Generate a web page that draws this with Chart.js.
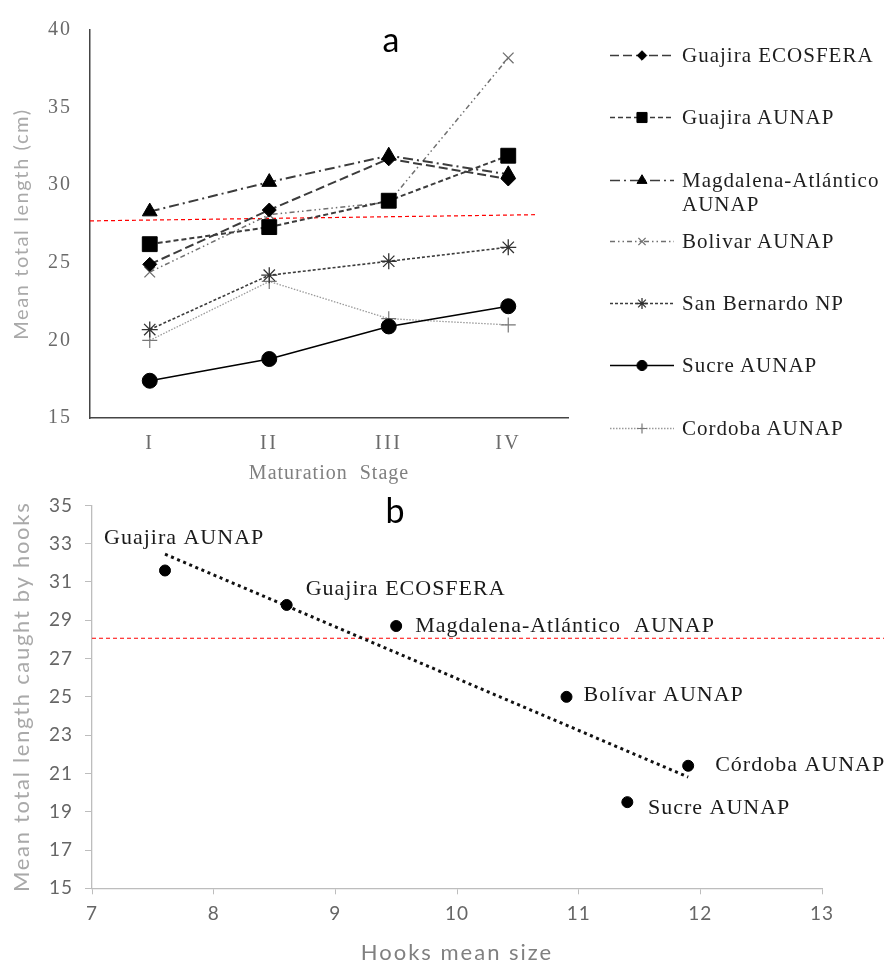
<!DOCTYPE html>
<html>
<head>
<meta charset="utf-8">
<script src="https://cdn.jsdelivr.net/npm/chart.js@4.4.1/dist/chart.umd.min.js"></script>
<style>
  html, body { margin: 0; padding: 0; background: #fff; }
  #page { position: relative; width: 884px; height: 963px; overflow: hidden; background: #fff; }
  canvas.chart { position: absolute; left: 0; }
  #cvA { top: 0; }
  #cvB { top: 482px; }
  .panel { position: absolute; font-family: Lato, sans-serif; font-size: 34px; line-height: 34px; color: #000; transform: translateX(-50%); }
  .item { position: absolute; left: 608px; height: 24px; width: 276px; }
  .item canvas { position: absolute; left: 0; top: 0; }
  .item span { position: absolute; left: 74px; top: 0; width: 204px; font-family: 'Liberation Serif', 'Times New Roman', serif; font-size: 21px; line-height: 24px; letter-spacing: 1px; color: #1e1e1e; }
</style>
</head>
<body>
<div id="page">
  <canvas id="cvA" class="chart" width="884" height="486"></canvas>
  <canvas id="cvB" class="chart" width="884" height="481"></canvas>
  <div class="panel" style="left:391px; top:22px;">a</div>
  <div class="panel" style="left:395px; top:493px;">b</div>
  <div id="legend"></div>
</div>
<script>
// ---- Panel a: mean total length by maturation stage ----
const stages = ['I', 'II', 'III', 'IV'];
const siteNames = ['Guajira ECOSFERA', 'Guajira AUNAP', 'Magdalena-Atlántico AUNAP', 'Bolivar AUNAP',
                   'San Bernardo NP', 'Sucre AUNAP', 'Cordoba AUNAP'];
const guajiraEcosfera    = [24.9, 28.4, 31.7, 30.4];
const guajiraAunap       = [26.2, 27.3, 29.0, 31.9];
const magdalenaAtlantico = [28.3, 30.2, 31.9, 30.7];
const bolivar            = [24.4, 28.1, 28.9, 38.2];
const sanBernardo        = [20.7, 24.2, 25.1, 26.0];
const sucre              = [17.4, 18.8, 20.9, 22.2];
const cordoba            = [20.0, 23.8, 21.4, 21.0];
const yTicksA = [15, 20, 25, 30, 35, 40];
// reference length line (x in stage units, -0.5 = left edge of the plot)
const referenceA = [{ x: -0.5, y: 27.7 }, { x: 3.24, y: 28.1 }];

// ---- Panel b: mean total length against hook size ----
const hookSites  = ['Guajira AUNAP', 'Guajira ECOSFERA', 'Magdalena-Atlántico  AUNAP', 'Bolívar AUNAP', 'Córdoba AUNAP', 'Sucre AUNAP'];
const hookSize   = [7.6, 8.6, 9.5, 10.9, 11.9, 11.4];
const hookLength = [31.6, 29.8, 28.7, 25.0, 21.4, 19.5];
const xTicksB = [7, 8, 9, 10, 11, 12, 13];
const yTicksB = [15, 17, 19, 21, 23, 25, 27, 29, 31, 33, 35];
const referenceB = 28.06;

// ---- styles ----
const seriesValues = [guajiraEcosfera, guajiraAunap, magdalenaAtlantico, bolivar, sanBernardo, sucre, cordoba];
const seriesStyle = [
  { color: '#3c3c3c', width: 2,   dash: [9, 4],              point: 'rectRot',  r: 7,   fill: '#000', pcolor: '#000',    pbw: 1 },
  { color: '#3c3c3c', width: 2,   dash: [5, 3],              point: 'rect',     r: 10.5, fill: '#000', pcolor: '#000',   pbw: 1 },
  { color: '#3c3c3c', width: 2,   dash: [10, 4, 2, 4],       point: 'triangle', r: 8.5, fill: '#000', pcolor: '#000',    pbw: 1 },
  { color: '#707070', width: 1.5, dash: [5, 3, 1.5, 3, 1.5, 3], point: 'crossRot', r: 7.5, fill: '#fff', pcolor: '#707070', pbw: 1.3 },
  { color: '#3c3c3c', width: 1.6, dash: [3, 2],              point: 'star',     r: 8,   fill: '#fff', pcolor: '#333',    pbw: 1.3 },
  { color: '#000',    width: 1.5, dash: [],                  point: 'circle',   r: 7.5, fill: '#000', pcolor: '#000',    pbw: 1 },
  { color: '#9a9a9a', width: 1.3, dash: [1.5, 1.5],          point: 'cross',    r: 7.5, fill: '#fff', pcolor: '#777',    pbw: 1.2 }
];
const labelOffsets = [[-61, -26], [19, -10], [19, 5.5], [17, 4], [27, 5.6], [20.6, 11.7]];
const legendRows = [55, 117, 180, 241, 303, 365, 428];

const SERIF = "'Liberation Serif', 'Times New Roman', serif";
const SANS = "Lato, 'Open Sans', sans-serif";

// letter spacing for a scale's tick labels and title
function spaceText(scale, tickLS, titleLS) {
  if (scale._spaced) return;
  scale._spaced = true;
  const dl = scale.drawLabels.bind(scale);
  const dt = scale.drawTitle.bind(scale);
  scale.drawLabels = (area) => { scale.ctx.letterSpacing = tickLS; dl(area); scale.ctx.letterSpacing = '0px'; };
  scale.drawTitle = () => { scale.ctx.letterSpacing = titleLS; dt(); scale.ctx.letterSpacing = '0px'; };
}

// ---------- chart a ----------
const datasetsA = seriesValues.map((vals, i) => {
  const s = seriesStyle[i];
  return {
    label: siteNames[i], data: vals, xAxisID: 'x', yAxisID: 'y',
    borderColor: s.color, borderWidth: s.width, borderDash: s.dash, tension: 0, fill: false,
    pointStyle: s.point, pointRadius: s.r, pointHoverRadius: s.r,
    pointBackgroundColor: s.fill, pointBorderColor: s.pcolor, pointBorderWidth: s.pbw
  };
});
datasetsA.push({
  label: 'reference', data: referenceA, xAxisID: 'xr', yAxisID: 'y',
  borderColor: '#ff0000', borderWidth: 1.2, borderDash: [4, 3], pointRadius: 0, fill: false
});

new Chart(document.getElementById('cvA'), {
  type: 'line',
  data: { labels: stages, datasets: datasetsA },
  options: {
    responsive: false, animation: false, events: [],
    layout: { padding: { left: 0, top: 20, right: 316, bottom: 0 } },
    plugins: { legend: { display: false }, tooltip: { enabled: false } },
    scales: {
      x: {
        type: 'category', offset: true,
        grid: { display: false, drawTicks: false },
        border: { display: true, color: '#454545', width: 1.5 },
        ticks: { font: { family: SERIF, size: 20 }, color: '#6a6a6a', padding: 13.5 },
        title: { display: true, text: 'Maturation  Stage', font: { family: SERIF, size: 20 }, color: '#808080', padding: { top: 0, bottom: 0 } },
        afterFit: (s) => { s.height = 68; spaceText(s, '2.5px', '1px'); }
      },
      xr: { type: 'linear', display: false, min: -0.5, max: 3.5 },
      y: {
        min: 15, max: 40,
        grid: { display: false, drawTicks: false },
        border: { display: true, color: '#454545', width: 1.5 },
        ticks: { font: { family: SERIF, size: 20 }, color: '#6a6a6a', padding: 18 },
        afterBuildTicks: (s) => { s.ticks = yTicksA.map(v => ({ value: v })); },
        title: { display: true, text: 'Mean total length (cm)', font: { family: SANS, size: 20 }, color: '#a9a9a9', padding: { top: 10, bottom: 0 } },
        afterFit: (s) => { s.width = 90; spaceText(s, '2px', '1.6px'); }
      }
    }
  }
});

// ---------- legend of chart a ----------
const legend = document.getElementById('legend');
siteNames.forEach((name, i) => {
  const s = seriesStyle[i];
  const row = document.createElement('div');
  row.className = 'item';
  row.style.top = (legendRows[i] - 12) + 'px';
  const cv = document.createElement('canvas');
  cv.width = 68; cv.height = 24;
  const span = document.createElement('span');
  span.textContent = name;
  row.appendChild(cv); row.appendChild(span);
  legend.appendChild(row);
  const ctx = cv.getContext('2d');
  ctx.strokeStyle = s.color; ctx.lineWidth = Math.min(s.width, 1.5);
  ctx.setLineDash(s.dash);
  ctx.beginPath(); ctx.moveTo(2, 12.5); ctx.lineTo(66, 12.5); ctx.stroke();
  ctx.setLineDash([]);
  ctx.fillStyle = s.fill; ctx.strokeStyle = s.pcolor; ctx.lineWidth = s.pbw;
  if (Chart.helpers && Chart.helpers.drawPoint) {
    Chart.helpers.drawPoint(ctx, { pointStyle: s.point, radius: s.r * 0.68, rotation: 0, borderWidth: s.pbw }, 34, 12.5);
  }
});

// ---------- chart b ----------
function leastSquares(xs, ys) {
  const n = xs.length;
  const mx = xs.reduce((a, b) => a + b, 0) / n;
  const my = ys.reduce((a, b) => a + b, 0) / n;
  let sxy = 0, sxx = 0;
  for (let i = 0; i < n; i++) { sxy += (xs[i] - mx) * (ys[i] - my); sxx += (xs[i] - mx) ** 2; }
  const slope = sxy / sxx;
  return (x) => my + slope * (x - mx);
}
const fit = leastSquares(hookSize, hookLength);
const xMin = Math.min(...hookSize), xMax = Math.max(...hookSize);
const trend = [{ x: xMin, y: fit(xMin) }, { x: xMax, y: fit(xMax) }];

const siteLabels = {
  id: 'siteLabels',
  afterDatasetsDraw(chart) {
    const meta = chart.getDatasetMeta(0);
    const ctx = chart.ctx;
    ctx.save();
    ctx.font = "22px " + SERIF;
    ctx.fillStyle = '#1a1a1a';
    ctx.textBaseline = 'alphabetic';
    ctx.textAlign = 'left';
    ctx.letterSpacing = '1px';
    meta.data.forEach((pt, i) => {
      const o = labelOffsets[i];
      ctx.fillText(hookSites[i], pt.x + o[0], pt.y + o[1]);
    });
    ctx.restore();
  }
};

new Chart(document.getElementById('cvB'), {
  type: 'scatter',
  data: {
    datasets: [
      { label: 'sites', data: hookSize.map((x, i) => ({ x, y: hookLength[i] })),
        pointRadius: 5.5, pointHoverRadius: 5.5, pointBackgroundColor: '#000', pointBorderColor: '#000', showLine: false },
      { label: 'trend', data: trend, showLine: true, borderColor: '#111', borderWidth: 3, borderDash: [3, 3.6],
        pointRadius: 0, fill: false },
      { label: 'reference', data: [{ x: 7, y: referenceB }, { x: 13.6, y: referenceB }], showLine: true,
        borderColor: '#ff0000', borderWidth: 1.2, borderDash: [4, 3], pointRadius: 0, fill: false, clip: false }
    ]
  },
  options: {
    responsive: false, animation: false, events: [],
    layout: { padding: { left: 0, top: 14.7, right: 62, bottom: 0 } },
    plugins: { legend: { display: false }, tooltip: { enabled: false } },
    scales: {
      x: {
        type: 'linear', min: 7, max: 13,
        grid: { drawOnChartArea: false, drawTicks: true, tickLength: 6, color: '#bdbdbd' },
        border: { display: true, color: '#bdbdbd', width: 1.3 },
        ticks: { font: { family: SANS, size: 19 }, color: '#666', padding: 8 },
        afterBuildTicks: (s) => { s.ticks = xTicksB.map(v => ({ value: v })); },
        title: { display: true, text: 'Hooks mean size', font: { family: SANS, size: 22 }, color: '#808080', padding: { top: 0, bottom: -3 } },
        afterFit: (s) => { s.height = 74.7; spaceText(s, '1px', '2px'); }
      },
      y: {
        min: 15, max: 35,
        grid: { drawOnChartArea: false, drawTicks: true, tickLength: 7, color: '#bdbdbd' },
        border: { display: true, color: '#bdbdbd', width: 1.3 },
        ticks: { font: { family: SANS, size: 19 }, color: '#666', padding: 12 },
        afterBuildTicks: (s) => { s.ticks = yTicksB.map(v => ({ value: v })); },
        title: { display: true, text: 'Mean total length caught by hooks', font: { family: SANS, size: 22 }, color: '#a9a9a9', padding: { top: 9, bottom: 0 } },
        afterFit: (s) => { s.width = 92; spaceText(s, '1px', '1.7px'); }
      }
    }
  },
  plugins: [siteLabels]
});
</script>
</body>
</html>
